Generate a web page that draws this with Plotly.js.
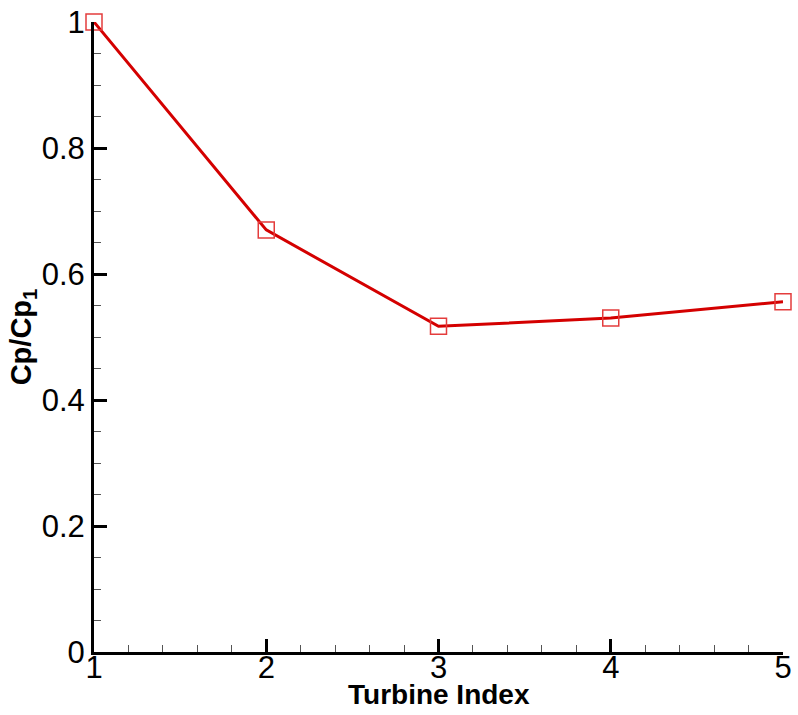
<!DOCTYPE html>
<html>
<head>
<meta charset="utf-8">
<script src="https://cdn.plot.ly/plotly-3.0.1.min.js"></script>
<style>
  html, body { margin: 0; padding: 0; background: #fff; }
  #chart { width: 798px; height: 715px; }
</style>
</head>
<body>
<div id="chart"></div>
<script>
// Normalised power coefficient along the turbine row
const turbineIndex = [1, 2, 3, 4, 5];
const cpRatio = [1.0, 0.670, 0.517, 0.530, 0.556];

const xTicks = [1, 2, 3, 4, 5];
const yTicks = [0, 0.2, 0.4, 0.6, 0.8, 1];
const yTickText = ['0', '0.2', '0.4', '0.6', '0.8', '1'];

const font = 'Liberation Sans, Arial, sans-serif';

const traces = [
  {
    x: turbineIndex,
    y: cpRatio,
    mode: 'lines',
    line: { color: 'rgb(212,0,0)', width: 3 },
    hoverinfo: 'skip',
    cliponaxis: false
  },
  {
    x: turbineIndex,
    y: cpRatio,
    mode: 'markers',
    marker: {
      symbol: 'square-open',
      size: 16,
      color: 'rgb(228,60,60)',
      line: { width: 1.5, color: 'rgb(228,60,60)' }
    },
    cliponaxis: false
  }
];

const layout = {
  width: 798,
  height: 715,
  showlegend: false,
  paper_bgcolor: '#fff',
  plot_bgcolor: '#fff',
  margin: { l: 94, r: 15, t: 22, b: 63 },
  font: { family: font, color: '#000', size: 31 },
  xaxis: {
    range: [1, 5],
    tickvals: xTicks,
    ticktext: xTicks.map(String),
    showgrid: false,
    zeroline: false,
    showline: true,
    linecolor: '#000',
    linewidth: 3,
    ticks: 'inside',
    ticklen: 13,
    tickwidth: 3,
    tickcolor: '#000',
    ticklabelstandoff: -14,
    tickfont: { family: font, size: 31, color: '#000' },
    minor: { dtick: 0.2, ticks: 'inside', ticklen: 7, tickwidth: 1, tickcolor: '#555', showgrid: false },
    automargin: false
  },
  yaxis: {
    range: [0, 1],
    tickvals: yTicks,
    ticktext: yTickText,
    showgrid: false,
    zeroline: false,
    showline: true,
    linecolor: '#000',
    linewidth: 3,
    ticks: 'inside',
    ticklen: 13,
    tickwidth: 3,
    tickcolor: '#000',
    ticklabelstandoff: 0,
    tickfont: { family: font, size: 31, color: '#000' },
    minor: { dtick: 0.05, ticks: 'inside', ticklen: 7, tickwidth: 1, tickcolor: '#555', showgrid: false },
    title: { text: '<b>Cp/Cp<sub>1</sub></b>', font: { family: font, size: 29, color: '#000' }, standoff: 2 },
    automargin: false
  },
  // x-axis title placed just under the tick labels
  annotations: [
    {
      text: '<b>Turbine Index</b>',
      xref: 'paper', yref: 'paper',
      x: 0.5, y: 0,
      xanchor: 'center', yanchor: 'middle',
      yshift: -42,
      showarrow: false,
      font: { family: font, size: 28, color: '#000' }
    }
  ]
};

Plotly.newPlot('chart', traces, layout, { displayModeBar: false, staticPlot: true });
</script>
</body>
</html>
